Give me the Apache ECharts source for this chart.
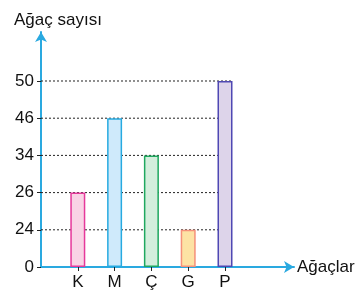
<!DOCTYPE html>
<html><head><meta charset="utf-8">
<script src="https://cdn.jsdelivr.net/npm/echarts@6/dist/echarts.min.js"></script>
<style>html,body{margin:0;padding:0;background:#fff}#c{width:360px;height:293px}</style>
</head><body><div id="c"></div>
<script>
var categories = ['K', 'M', 'Ç', 'G', 'P'];
var values = [26, 46, 34, 24, 50];
var tickLabels = [0, 24, 26, 34, 46, 50];
var fillColors = ['#f9d3e5', '#cfeafb', '#d3eedc', '#fde2a4', '#ddd4ea'];
var borderColors = ['#e6399b', '#27aae1', '#1fa85f', '#f5917a', '#4f48b3'];

var FONT = '"Liberation Sans", Arial, sans-serif';
var BAR_W = 15;
var catPos = categories.map(function (c, i) { return i + 1; });
var levelIdx = tickLabels.map(function (t, i) { return i; });

var barData = values.map(function (v, i) {
  return {
    value: [catPos[i], tickLabels.indexOf(v)],
    itemStyle: { color: fillColors[i], borderColor: borderColors[i], borderWidth: 1.5 }
  };
});

var chart = echarts.init(document.getElementById('c'), null, { renderer: 'canvas' });
chart.setOption({
  animation: false,
  title: {
    text: 'Ağaç sayısı', left: 9, top: 7,
    textStyle: { fontFamily: FONT, fontSize: 17, fontWeight: 'normal', color: '#111' }
  },
  grid: { left: 41, right: 66, top: 32, bottom: 26, containLabel: false },
  xAxis: {
    type: 'value', min: 0, max: 6.875,
    name: 'Ağaçlar', nameLocation: 'end', nameGap: 3,
    nameTextStyle: { fontFamily: FONT, fontSize: 17, color: '#111', align: 'left', verticalAlign: 'middle' },
    axisLine: { show: true, symbol: ['none', 'arrow'], symbolSize: [9, 10], lineStyle: { color: '#2aa9e0', width: 2 } },
    axisTick: { show: true, customValues: catPos, length: 4, lineStyle: { color: '#222', width: 1 } },
    axisLabel: {
      customValues: catPos, margin: 7, fontFamily: FONT, fontSize: 17, color: '#111',
      formatter: function (v) { return categories[Math.round(v) - 1] || ''; }
    },
    splitLine: { show: false }
  },
  yAxis: {
    type: 'value', min: 0, max: 6.317,
    axisLine: { show: true, symbol: ['none', 'arrow'], symbolSize: [9, 10], lineStyle: { color: '#2aa9e0', width: 2 } },
    axisTick: { show: true, customValues: levelIdx, length: 4, lineStyle: { color: '#222', width: 1 } },
    axisLabel: {
      customValues: levelIdx, margin: 7, fontFamily: FONT, fontSize: 17, color: '#111',
      formatter: function (v) { return String(tickLabels[Math.round(v)]); }
    },
    splitLine: { show: false }
  },
  series: [
    {
      type: 'custom',
      silent: true,
      z: 1,
      data: levelIdx.slice(1).map(function (i) { return [0, i]; }),
      renderItem: function (params, api) {
        var p0 = api.coord([0, api.value(1)]);
        var p1 = api.coord([catPos[catPos.length - 1], api.value(1)]);
        return {
          type: 'line',
          shape: { x1: p0[0], y1: p0[1], x2: p1[0] + BAR_W / 2, y2: p1[1] },
          style: { stroke: '#222', lineWidth: 1, lineDash: [2, 2] }
        };
      }
    },
    {
      type: 'bar',
      z: 2,
      barWidth: BAR_W,
      data: barData
    }
  ]
});
</script></body></html>
